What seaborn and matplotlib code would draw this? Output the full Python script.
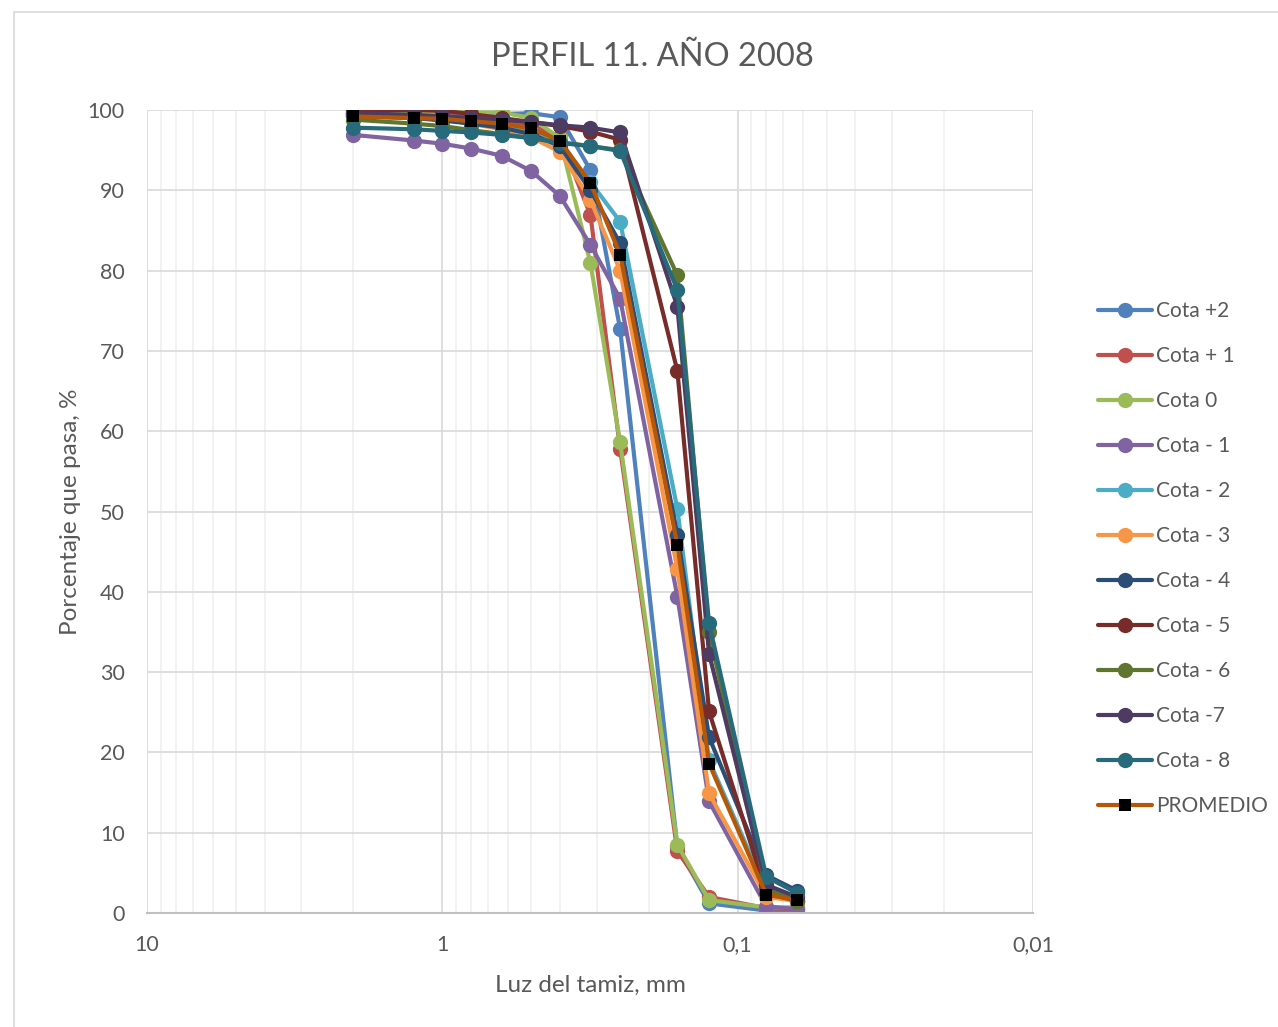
import matplotlib
matplotlib.use("Agg")
import matplotlib.pyplot as plt
import matplotlib.ticker as mticker
from matplotlib.patches import Rectangle
import numpy as np
import pandas as pd
import seaborn as sns

sns.set_style("white")
plt.rcParams['font.family'] = ['Lato', 'DejaVu Sans']

# sieve openings, mm
tamiz = [2, 1.25, 1, 0.8, 0.63, 0.5, 0.4, 0.315, 0.25, 0.16, 0.125, 0.08, 0.063]

cota_p2 = [99.5, 99.5, 99.5, 99.5, 99.5, 99.6, 99.1, 92.5, 72.7, 8.2, 1.2, 0.3, 0.3]
cota_p1 = [99.6, 99.5, 99.3, 99.0, 98.6, 98.1, 96.6, 86.9, 57.8, 7.7, 2.0, 0.6, 0.5]
cota_0 = [99.4, 99.6, 99.8, 99.7, 99.7, 99.0, 96.5, 80.9, 58.6, 8.5, 1.6, 0.7, 0.7]
cota_m1 = [96.9, 96.2, 95.8, 95.2, 94.3, 92.4, 89.3, 83.2, 76.5, 39.4, 13.9, 0.8, 0.5]
cota_m2 = [99.2, 99.0, 98.8, 98.5, 98.0, 97.3, 95.8, 91.0, 86.1, 50.3, 19.0, 2.8, 1.5]
cota_m3 = [99.4, 99.1, 98.8, 98.3, 97.6, 96.6, 94.8, 88.8, 80.0, 42.8, 14.9, 2.0, 1.5]
cota_m4 = [99.3, 99.0, 98.7, 98.3, 97.8, 97.0, 95.5, 90.0, 83.4, 47.1, 21.9, 4.7, 2.8]
cota_m5 = [100.0, 100.0, 99.9, 99.5, 99.0, 98.5, 98.0, 97.3, 96.3, 67.5, 25.1, 2.5, 1.5]
cota_m6 = [98.8, 98.3, 98.0, 97.5, 97.0, 96.5, 96.0, 95.5, 95.0, 79.4, 35.0, 3.0, 1.5]
cota_m7 = [99.6, 99.4, 99.2, 99.0, 98.8, 98.5, 98.1, 97.8, 97.2, 75.5, 32.3, 3.5, 2.0]
cota_m8 = [97.8, 97.6, 97.4, 97.2, 96.9, 96.5, 95.9, 95.5, 94.9, 77.6, 36.1, 4.5, 2.5]
promedio = [99.2, 99.0, 98.9, 98.6, 98.3, 97.7, 96.2, 90.9, 82.0, 45.8, 18.6, 2.3, 1.6]

series = [
    ("Cota +2", cota_p2, "#4F81BD"),
    ("Cota + 1", cota_p1, "#C0504D"),
    ("Cota 0", cota_0, "#9BBB59"),
    ("Cota - 1", cota_m1, "#8064A2"),
    ("Cota - 2", cota_m2, "#4BACC6"),
    ("Cota - 3", cota_m3, "#F79646"),
    ("Cota - 4", cota_m4, "#2C4D75"),
    ("Cota - 5", cota_m5, "#772C2A"),
    ("Cota - 6", cota_m6, "#5F7530"),
    ("Cota -7", cota_m7, "#4D3B62"),
    ("Cota - 8", cota_m8, "#276A7C"),
]

fig = plt.figure(figsize=(12.78, 10.27), dpi=100)
ax = fig.add_axes([147/1278, 1 - 913/1027, (1033-147)/1278, (913-110)/1027])

for name, vals, col in series:
    df = pd.DataFrame({"x": tamiz, "y": vals})
    sns.lineplot(data=df, x="x", y="y", ax=ax, color=col, lw=3, marker="o",
                 markersize=11, markeredgewidth=0, sort=False, label=name)

df = pd.DataFrame({"x": tamiz, "y": promedio})
sns.lineplot(data=df, x="x", y="y", ax=ax, color="#B65708", lw=3, marker="s",
             markersize=9, markerfacecolor="black", markeredgewidth=0,
             sort=False, label="PROMEDIO")

ax.set_xscale("log")
ax.set_xlim(10, 0.01)
ax.set_ylim(0, 100)
ax.set_yticks(range(0, 101, 10))
ax.xaxis.set_major_locator(mticker.FixedLocator([10, 1, 0.1, 0.01]))
ax.xaxis.set_major_formatter(mticker.FixedFormatter(["10", "1", "0,1", "0,01"]))
ax.xaxis.set_minor_locator(mticker.LogLocator(base=10, subs=np.arange(2, 10)))
ax.xaxis.set_minor_formatter(mticker.NullFormatter())

ax.grid(True, which="major", color="#D9D9D9", lw=1.2)
ax.grid(True, which="minor", axis="x", color="#F0F0F0", lw=1.2)
ax.set_axisbelow(True)
for s in ["top", "right", "left"]:
    ax.spines[s].set_visible(False)
ax.spines["bottom"].set_color("#BFBFBF")
ax.spines["bottom"].set_linewidth(1.5)
ax.tick_params(axis="both", which="both", length=0, labelsize=15.5, colors="#595959")
ax.tick_params(axis="x", pad=16)
ax.tick_params(axis="y", pad=16)

ax.set_xlabel("Luz del tamiz, mm", fontsize=17.5, color="#595959", labelpad=14)
ax.set_ylabel("Porcentaje que pasa, %", fontsize=17.5, color="#595959", labelpad=5)
fig.text(652/1278, 1 - 57/1027, "PERFIL 11. AÑO 2008", ha="center", va="center",
         fontsize=23.5, color="#595959")

leg = ax.legend(loc="upper left", bbox_to_anchor=(1.0635, 0.772), frameon=False,
                fontsize=15, labelspacing=1.2, handlelength=2.6, handletextpad=0.2,
                borderaxespad=0)
for t in leg.get_texts():
    t.set_color("#595959")

fig.patches.append(Rectangle((14/1278, -0.05), 1.1, 1.05 - 12/1027,
                             transform=fig.transFigure, fill=False,
                             edgecolor="#D9D9D9", lw=1.2))

fig.savefig("out.png", dpi=100)
